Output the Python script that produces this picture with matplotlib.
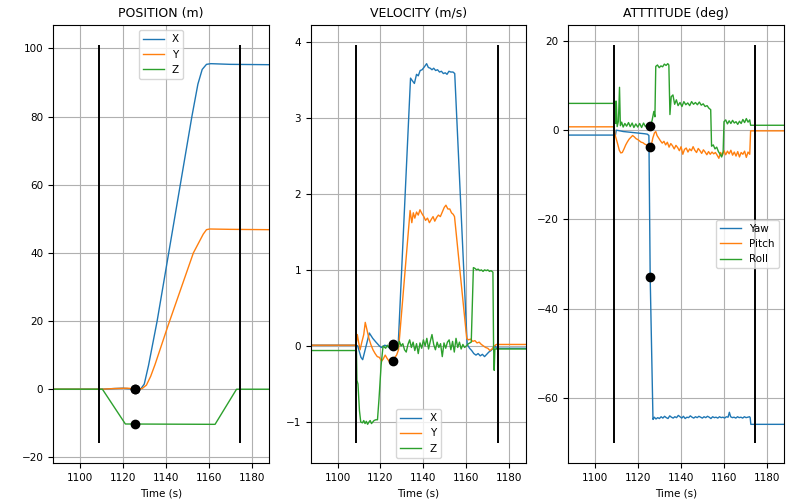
import numpy as np
import matplotlib
matplotlib.use("Agg")
import matplotlib.pyplot as plt

plt.rcParams['font.size'] = 7.5

# event markers
event_times = [1108.7, 1174.6]
t_dot = 1125.6
t_span = (1087.5, 1188.0)

# ---- position (m)
pos_x_t = [1087.5, 1110, 1116, 1120, 1124, 1126.5, 1128.5, 1130, 1132, 1134, 1136, 1152.2, 1155, 1157, 1159, 1161, 1170, 1188]
pos_x = [0.0, 0.0, 0.2, 0.3, 0.1, 0.0, 0.2, 1.5, 7.0, 13.5, 20.0, 80.0, 89.5, 93.8, 95.3, 95.5, 95.3, 95.2]
pos_y_t = [1087.5, 1110, 1116, 1122, 1126.5, 1129, 1131, 1133, 1135, 1141, 1152.9, 1157.5, 1159, 1160.5, 1170, 1188]
pos_y = [0.0, 0.0, 0.2, 0.3, 0.1, 0.2, 1.2, 3.8, 7.2, 18.5, 40.0, 45.5, 46.8, 47.0, 46.9, 46.8]
pos_z_t = [1087.5, 1110.5, 1121.2, 1163.0, 1173.0, 1188]
pos_z = [0.0, 0.0, -10.2, -10.3, 0.0, 0.0]

# ---- velocity (m/s)
vel_x_t = [1087.5, 1108.6, 1109.4, 1110.9, 1111.7, 1113.3, 1114.8, 1116.4, 1117.9, 1119.5, 1120.4, 1122.0,
           1123.0, 1124.3, 1125.4, 1127.0, 1128.2, 1134.0, 1135.0, 1135.8, 1136.8, 1137.6, 1138.5, 1139.4,
           1140.5, 1141.5, 1142.3, 1143.2, 1144.0, 1144.8, 1145.7, 1146.6, 1147.5, 1148.4, 1149.3, 1150.2,
           1151.0, 1151.9, 1152.8, 1153.8, 1154.6, 1160.4, 1161.5, 1162.5, 1163.5, 1164.5, 1165.5, 1166.5,
           1167.5, 1168.5, 1169.5, 1170.5, 1171.5, 1172.5, 1173.5, 1174.0, 1188]
vel_x = [0.01, 0.01, 0.0, -0.15, -0.18, 0.0, 0.17, 0.1, 0.05, 0.0, -0.02, 0.01,
         0.0, -0.03, 0.0, -0.02, -0.02, 3.52, 3.48, 3.45, 3.57, 3.55, 3.62, 3.63,
         3.67, 3.71, 3.66, 3.65, 3.63, 3.65, 3.62, 3.63, 3.60, 3.61, 3.58, 3.59,
         3.57, 3.61, 3.60, 3.60, 3.58, 0.02, -0.03, -0.06, -0.10, -0.12, -0.10, -0.13,
         -0.11, -0.14, -0.11, -0.08, -0.06, -0.03, 0.0, -0.03, -0.03]
vel_y_t = [1087.5, 1108.6, 1109.2, 1109.8, 1110.5, 1111.3, 1112.2, 1112.9, 1113.8, 1114.6, 1115.5, 1116.5,
           1117.5, 1118.5, 1119.5, 1120.5, 1121.3, 1122.2, 1123.0, 1124.0, 1125.0, 1125.8, 1126.7, 1127.5,
           1128.4, 1133.8, 1134.6, 1135.3, 1136.0, 1136.8, 1137.6, 1138.4, 1139.3, 1140.2, 1141.0, 1141.9,
           1142.8, 1143.6, 1144.5, 1145.3, 1146.2, 1147.0, 1147.9, 1148.8, 1149.7, 1150.5, 1151.4, 1152.3,
           1153.1, 1153.9, 1154.5, 1160.2, 1161.0, 1162.0, 1163.0, 1164.0, 1165.0, 1166.0, 1167.0, 1168.0,
           1169.0, 1170.0, 1171.0, 1172.0, 1173.0, 1174.0, 1188]
vel_y = [0.01, 0.01, 0.15, 0.05, -0.05, 0.05, 0.15, 0.31, 0.2, 0.1, 0.02, -0.05,
         -0.1, -0.14, -0.15, -0.2, -0.17, -0.12, -0.16, -0.2, -0.18, -0.2, -0.15, -0.12,
         -0.05, 1.78, 1.62, 1.75, 1.68, 1.76, 1.72, 1.79, 1.74, 1.70, 1.65, 1.68,
         1.62, 1.66, 1.70, 1.64, 1.69, 1.72, 1.70, 1.76, 1.82, 1.85, 1.80, 1.80,
         1.75, 1.73, 1.70, 0.10, 0.08, 0.09, 0.06, 0.07, 0.04, 0.05, 0.02, 0.0,
         -0.02, -0.03, -0.06, -0.04, 0.0, 0.02, 0.02]
vel_z_t = [1087.5, 1108.8, 1109.0, 1109.5, 1110.2, 1110.8, 1111.6, 1112.2, 1112.8, 1113.4, 1114.0, 1114.6,
           1115.2, 1115.8, 1116.4, 1117.0, 1117.8, 1118.6, 1119.3, 1120.3, 1121.2, 1122.4, 1123.2, 1124.0,
           1124.8, 1125.6, 1126.4, 1127.2, 1128.0, 1128.8, 1129.6, 1130.4, 1131.2, 1132.0, 1132.8, 1133.6,
           1134.4, 1135.2, 1136.0, 1136.8, 1137.6, 1138.4, 1139.2, 1140.0, 1140.8, 1141.6, 1142.4, 1143.2,
           1144.0, 1144.8, 1145.6, 1146.4, 1147.2, 1148.0, 1148.8, 1149.6, 1150.4, 1151.2, 1152.0, 1152.8,
           1153.6, 1154.4, 1155.2, 1156.0, 1156.8, 1157.6, 1158.4, 1159.2, 1160.0, 1161.0, 1162.3, 1163.3,
           1164.0, 1164.8, 1165.5, 1166.3, 1167.0, 1167.8, 1168.5, 1169.3, 1170.0, 1170.8, 1171.5, 1172.4,
           1172.7, 1173.0, 1173.3, 1188]
vel_z = [-0.06, -0.06, -0.45, -0.5, -0.85, -1.0, -1.01, -0.98, -1.02, -0.99, -1.03, -1.0,
         -0.98, -1.02, -1.0, -0.98, -0.97, -0.97, -0.7, -0.25, 0.0, -0.03, 0.01, -0.02,
         0.0, 0.02, -0.02, 0.04, -0.04, 0.06, 0.0, 0.03, -0.05, -0.08, 0.02, 0.08,
         -0.02, 0.05, -0.06, 0.03, -0.10, 0.04, -0.03, 0.08, 0.0, 0.10, -0.04, 0.06,
         0.15, 0.02, -0.05, 0.05, -0.02, 0.03, -0.14, 0.04, -0.03, 0.05, 0.08, -0.05,
         0.06, -0.08, 0.10, -0.02, 0.05, -0.04, 0.02, -0.02, 0.0, 0.03, 0.05, 1.03,
         1.02, 1.0, 1.01, 0.99, 1.0, 0.98, 1.0, 0.99, 1.0, 0.98, 0.99, 0.97,
         0.0, -0.32, -0.04, -0.04]

# ---- attitude (deg)
yaw_t = [1087.5, 1109.4, 1109.8, 1111, 1113, 1115, 1117, 1119, 1121, 1123, 1124.3, 1125.0, 1125.6,
         1126.9, 1127.5, 1128.3, 1129.1, 1129.9, 1130.7, 1131.5, 1132.3, 1133.1, 1133.9, 1134.7, 1135.5,
         1136.3, 1137.1, 1137.9, 1138.7, 1139.5, 1140.3, 1141.1, 1141.9, 1142.7, 1143.5, 1144.3, 1145.1,
         1145.9, 1146.7, 1147.5, 1148.3, 1149.1, 1149.9, 1150.7, 1151.5, 1152.3, 1153.1, 1153.9, 1154.7,
         1155.5, 1156.3, 1157.1, 1157.9, 1158.7, 1159.5, 1160.3, 1161.1, 1161.9, 1162.5, 1163.1, 1163.9,
         1164.7, 1165.5, 1166.3, 1167.1, 1167.9, 1168.7, 1169.5, 1170.3, 1171.1, 1171.9, 1172.2, 1172.5, 1188]
yaw = [-1.1, -1.1, 0.0, -0.1, -0.3, -0.4, -0.5, -0.6, -0.7, -0.8, -0.9, -1.2, -33.0,
       -64.8, -64.3, -64.7, -64.4, -64.6, -64.2, -64.5, -64.1, -64.4, -64.6, -64.0, -64.3,
       -64.5, -64.2, -64.4, -63.9, -64.2, -64.5, -64.1, -64.6, -64.3, -64.4, -64.0, -64.3,
       -64.5, -64.2, -64.4, -64.1, -64.3, -64.5, -64.2, -64.4, -64.1, -64.3, -64.6, -64.2,
       -64.4, -64.3, -64.5, -64.2, -64.4, -64.3, -64.5, -64.2, -64.3, -63.2, -64.2, -64.4,
       -64.3, -64.5, -64.2, -64.4, -64.3, -64.5, -64.2, -64.4, -64.3, -64.2, -64.4, -65.9, -65.9]
pitch_t = [1087.5, 1108.8, 1109.2, 1109.8, 1110.5, 1111.2, 1111.9, 1112.6, 1113.4, 1114.2, 1115.0, 1115.8,
           1116.6, 1117.4, 1118.2, 1119.0, 1119.8, 1120.6, 1121.4, 1122.2, 1123.0, 1123.8, 1124.6, 1125.4,
           1126.0, 1126.8, 1127.6, 1128.2, 1128.8, 1129.6, 1130.4, 1131.2, 1132.0, 1132.8, 1133.6, 1134.4,
           1135.2, 1136.0, 1136.8, 1137.6, 1138.4, 1139.2, 1140.0, 1140.8, 1141.6, 1142.4, 1143.2, 1144.0,
           1144.8, 1145.6, 1146.4, 1147.2, 1148.0, 1148.8, 1149.6, 1150.4, 1151.2, 1152.0, 1152.8, 1153.6,
           1154.4, 1155.2, 1156.0, 1156.8, 1157.6, 1158.4, 1159.2, 1160.0, 1160.8, 1161.6, 1162.4, 1163.2,
           1164.0, 1164.8, 1165.6, 1166.4, 1167.2, 1168.0, 1168.8, 1169.6, 1170.4, 1171.2, 1172.0, 1172.4, 1188]
pitch = [0.75, 0.75, -1.0, -2.0, -3.2, -4.5, -5.1, -5.0, -4.2, -3.3, -2.6, -2.0,
         -1.6, -1.2, -1.5, -1.9, -2.1, -2.4, -2.7, -2.8, -3.1, -3.3, -3.6, -3.8,
         -3.7, -1.8, -0.6, -0.3, -1.2, -1.8, -2.4, -2.9, -2.5, -3.3, -2.7, -3.8,
         -3.0, -3.5, -4.2, -3.4, -3.9, -4.6, -3.7, -5.4, -4.3, -4.0, -4.9, -4.2,
         -4.6, -3.7, -4.5, -5.0, -4.1, -4.6, -5.2, -4.4, -4.9, -5.5, -4.8, -5.4,
         -4.9, -5.3, -5.0, -5.6, -6.3, -5.0, -5.7, -4.6, -5.5, -4.7, -5.3, -4.5,
         -5.6, -4.9, -5.8, -4.8, -6.0, -5.0, -5.4, -4.7, -6.1, -4.9, -5.4, -0.15, -0.15]
roll_t = [1087.5, 1108.8, 1109.2, 1109.5, 1109.8, 1110.2, 1110.8, 1111.3, 1111.7, 1112.3, 1113.0, 1113.8,
          1114.6, 1115.5, 1116.3, 1117.2, 1118.0, 1118.9, 1119.8, 1120.7, 1121.6, 1122.5, 1123.4, 1124.3,
          1125.0, 1125.7, 1126.4, 1127.3, 1127.8, 1128.2, 1129.0, 1129.8, 1130.6, 1131.4, 1132.2, 1133.0,
          1133.8, 1134.3, 1134.8, 1135.4, 1136.2, 1137.0, 1137.8, 1138.6, 1139.5, 1140.4, 1141.3, 1142.2,
          1143.1, 1144.0, 1144.9, 1145.8, 1146.7, 1147.6, 1148.5, 1149.4, 1150.3, 1151.2, 1152.1, 1153.0,
          1153.8, 1154.2, 1155.0, 1155.8, 1156.6, 1157.4, 1158.2, 1158.9, 1159.6, 1160.0, 1160.8, 1161.6,
          1162.4, 1163.2, 1164.0, 1164.8, 1165.6, 1166.4, 1167.2, 1168.0, 1168.8, 1169.6, 1170.4, 1171.2,
          1172.0, 1172.4, 1188]
roll = [6.0, 6.0, 6.5, 1.5, 6.5, 0.8, 2.0, 9.6, 1.0, 1.8, 0.7, 1.5,
        0.9, 1.7, 0.8, 1.6, 0.6, 1.4, 0.7, 1.5, 0.6, 1.6, 0.8, 1.3,
        0.9, 1.0, 2.0, 4.2, 3.0, 14.3, 14.6, 14.0, 14.4, 14.2, 14.8, 14.5,
        14.9, 14.6, 3.5, 7.5, 7.9, 5.8, 6.8, 5.5, 6.2, 5.3, 6.4, 5.7,
        6.1, 5.5, 6.4, 5.8, 6.2, 5.7, 6.3, 5.6, 5.9, 5.3, 5.5, 4.9,
        4.6, -3.6, -3.3, -4.2, -3.8, -4.8, -5.4, -6.0, -4.8, 1.9, 2.3, 1.4,
        2.1, 1.5, 2.2, 1.6, 1.9, 1.3, 2.0, 1.5, 2.4, 1.7, 2.6, 1.8,
        2.3, 1.1, 1.1]

panels = [
    ("POSITION (m)", [(pos_x_t, pos_x, "X"), (pos_y_t, pos_y, "Y"), (pos_z_t, pos_z, "Z")], "upper center"),
    ("VELOCITY (m/s)", [(vel_x_t, vel_x, "X"), (vel_y_t, vel_y, "Y"), (vel_z_t, vel_z, "Z")], "lower center"),
    ("ATTTITUDE (deg)", [(yaw_t, yaw, "Yaw"), (pitch_t, pitch, "Pitch"), (roll_t, roll, "Roll")], "center right"),
]

fig, axes = plt.subplots(1, 3, figsize=(7.92, 5.0), dpi=100)
fig.subplots_adjust(left=0.067, right=0.99, top=0.95, bottom=0.074, wspace=0.195)

for ax, (title, series, loc) in zip(axes, panels):
    lo = min(min(v) for _, v, _ in series)
    hi = max(max(v) for _, v, _ in series)
    pad = 0.052 * (hi - lo)
    for t, v, name in series:
        ax.plot(t, v, lw=1.0, label=name)
    for t, v, name in series:
        ax.plot(t_dot, np.interp(t_dot, t, v), 'o', color='black', ms=6)
    ax.vlines(event_times, lo - pad, hi + pad, color='black', lw=1.4)
    ax.set_xlim(*t_span)
    ax.set_xticks([1100, 1120, 1140, 1160, 1180])
    ax.grid(True)
    ax.set_title(title)
    ax.set_xlabel("Time (s)")
    handles, labels = ax.get_legend_handles_labels()
    ax.legend(handles[:3], labels[:3], loc=loc)

fig.savefig("out.png")
